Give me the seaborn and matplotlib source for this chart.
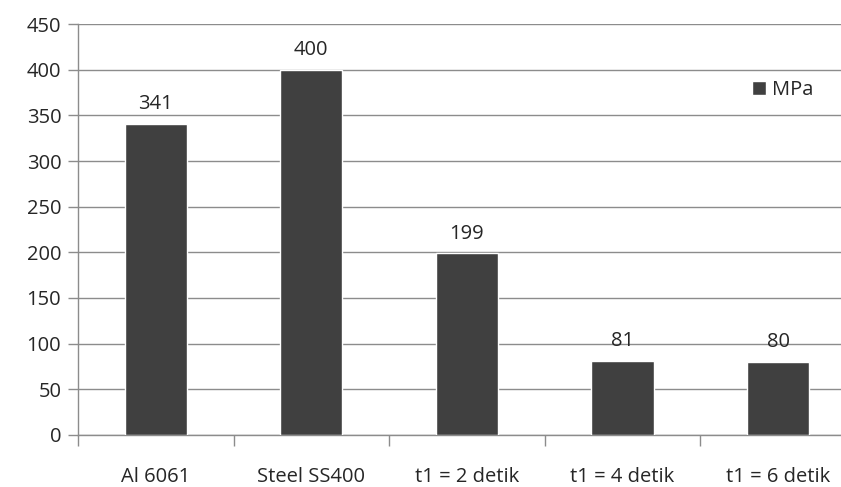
import pandas as pd
import matplotlib.pyplot as plt
import seaborn as sns

materials = ['Al 6061', 'Steel SS400', 't1 = 2 detik', 't1 = 4 detik', 't1 = 6 detik']
mpa = [341, 400, 199, 81, 80]

df = pd.DataFrame({'material': materials, 'MPa': mpa})

sns.set_style('white')
plt.rcParams['font.family'] = ['Open Sans', 'DejaVu Sans']

fig = plt.figure(figsize=(8.41, 4.87), dpi=100)
ax = fig.add_axes([0.0927, 0.1068, 0.925, 0.8439])

sns.barplot(data=df, x='material', y='MPa', color='#404040', width=0.4,
            saturation=1, label='MPa', ax=ax, zorder=3)

ax.set_ylim(0, 450)
ax.set_xlim(-0.5, 4.5)
ax.set_yticks(range(0, 451, 50))
ax.yaxis.grid(True, color='#8c8c8c', linewidth=1, zorder=0)
ax.set_xlabel('')
ax.set_ylabel('')

for s in ['top', 'right']:
    ax.spines[s].set_visible(False)
for s in ['left', 'bottom']:
    ax.spines[s].set_color('#8c8c8c')
    ax.spines[s].set_linewidth(1)

# category labels sit between boundary tick marks
ax.set_xticks([i - 0.5 for i in range(6)], minor=True)
ax.tick_params(axis='x', which='minor', bottom=True, length=8, color='#8c8c8c', width=1)
ax.tick_params(axis='x', which='major', bottom=True, length=0, pad=23, labelsize=14.5)
ax.tick_params(axis='y', left=True, length=7, color='#8c8c8c', width=1, labelsize=14.5, pad=5)

for i, v in enumerate(mpa):
    ax.annotate(str(v), (i, v), xytext=(0, 7), textcoords='offset points',
                ha='center', va='bottom', fontsize=14.5)

leg = ax.legend(loc='center left', bbox_to_anchor=(0.843, 0.84), frameon=False,
                fontsize=14.5, handlelength=0.7, handleheight=0.7, handletextpad=0.3)

fig.savefig('out.png', dpi=100)
